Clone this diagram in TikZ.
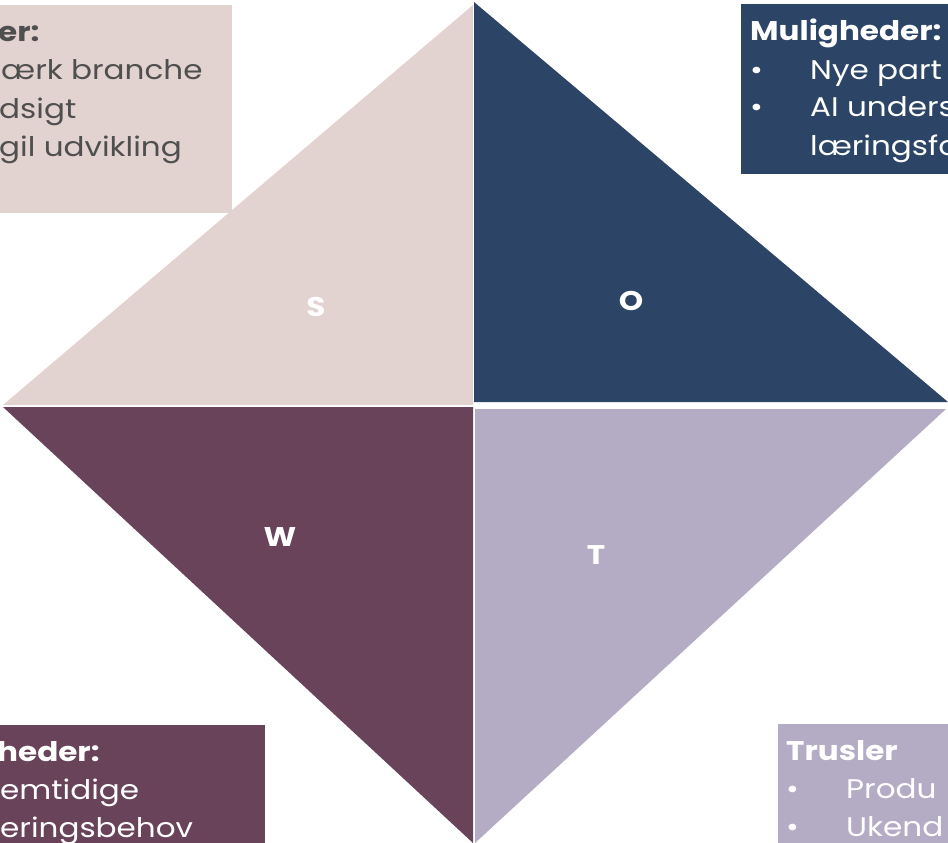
\documentclass[tikz,border=0pt]{standalone}
\usepackage{fontspec}
\setmainfont{Poppins}[FakeStretch=1.15]
\definecolor{strength}{HTML}{E2D3D1}
\definecolor{chance}{HTML}{2C4466}
\definecolor{weak}{HTML}{684359}
\definecolor{threat}{HTML}{B4ACC5}
\definecolor{graytext}{HTML}{4F4F4F}
\tikzset{
  boxtext/.style={anchor=base west, inner sep=0pt, font=\fontsize{27}{38}\selectfont},
  boxhead/.style={boxtext, font=\fontsize{27}{38}\selectfont\bfseries},
  letter/.style={text=white, font=\fontsize{27}{30}\selectfont\bfseries}
}
\begin{document}
\begin{tikzpicture}[x=1pt,y=-1pt]
\useasboundingbox (0,0) rectangle (948,843);
\clip (0,0) rectangle (948,843);
% the four triangles
\fill[strength] (473,5) -- (3,405) -- (473,405) -- cycle;
\fill[chance] (474,2) -- (948,402) -- (474,402) -- cycle;
\fill[weak] (3,407) -- (473,407) -- (473,843) -- cycle;
\fill[threat] (475,409) -- (946,409) -- (475,843) -- cycle;
\node[letter] (s) at (316,307) {S};
\node[letter] (o) at (631,301) {O};
\node[letter] (w) at (280,537) {W};
\node[letter] (t) at (596,555) {T};
% text boxes
\fill[strength] (0,5) rectangle (232,213);
\node[boxhead, text=graytext] (sh) at (-2,42) {er:};
\node[boxtext, text=graytext] (s1) at (1,80) {ærk branche};
\node[boxtext, text=graytext] (s2) at (-1,118) {dsigt};
\node[boxtext, text=graytext] (s3) at (-1,156) {gil udvikling};
\fill[chance] (741,4) rectangle (948,174);
\node[boxhead, text=white] (oh) at (750,41) {Muligheder:};
\node[boxtext, text=white] (ob1) at (750,79) {•};
\node[boxtext, text=white] (o1) at (810,79) {Nye part};
\node[boxtext, text=white] (ob2) at (750,117) {•};
\node[boxtext, text=white] (o2) at (810,117) {AI unders};
\node[boxtext, text=white] (o3) at (810,155) {læringsfo};
\fill[weak] (0,725) rectangle (265,843);
\node[boxhead, text=white] (wh) at (-3,761) {heder:};
\node[boxtext, text=white] (w1) at (0,799) {emtidige};
\node[boxtext, text=white] (w2) at (0,837) {eringsbehov};
\fill[threat] (778,724) rectangle (948,843);
\node[boxhead, text=white] (th) at (786,760) {Trusler};
\node[boxtext, text=white] (tb1) at (786,798) {•};
\node[boxtext, text=white] (t1) at (846,798) {Produ};
\node[boxtext, text=white] (tb2) at (786,836) {•};
\node[boxtext, text=white] (t2) at (846,836) {Ukend};
\end{tikzpicture}
\end{document}
